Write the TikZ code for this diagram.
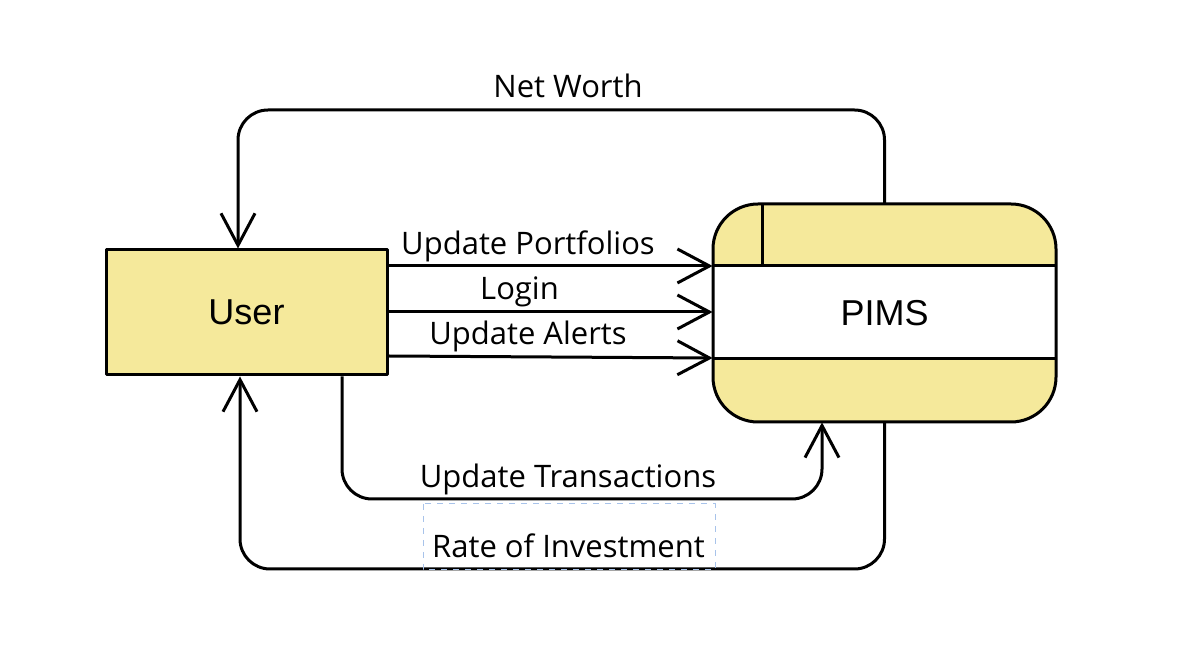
\documentclass[tikz,border=0pt]{standalone}
\usepackage{fontspec}
\setmainfont{Open Sans}
\newfontfamily\boxfont{Liberation Sans}
\usetikzlibrary{arrows.meta}
\definecolor{boxyellow}{HTML}{F5E99B}
\definecolor{selblue}{HTML}{A8C3EA}

\begin{document}
\begin{tikzpicture}[
    x = 0.5pt, y = -0.5pt,
    line join=round,
    entity/.style = {draw, line width=1.5pt, fill=boxyellow, minimum width=140.5pt, minimum height=62.5pt, inner sep=0pt, font=\boxfont\fontsize{18}{20}\selectfont},
    process/.style = {minimum width=171.5pt, minimum height=109pt, inner sep=0pt, font=\boxfont\fontsize{18}{20}\selectfont},
    flow/.style = {line width=1.5pt, -{Straight Barb[length=16pt, width=17pt, line width=1.5pt]}},
    flowlabel/.style = {anchor=base, inner sep=0pt, font=\fontsize{15.5}{17}\selectfont},
    selbox/.style = {draw=selblue, dashed, line width=0.5pt}
]

\useasboundingbox (0,0) rectangle (1188,672);

\coordinate (p1) at (713,204);
\coordinate (p2) at (1056,422);

\fill[boxyellow, rounded corners=22.5pt] (p1) rectangle (p2);
\fill[white] (713,266) rectangle (1056,359);
\draw[line width=1.5pt] (713,266) -- (1056,266);
\draw[line width=1.5pt] (713,359) -- (1056,359);
\draw[line width=1.5pt] (762,204) -- (762,266);
\draw[line width=1.5pt, rounded corners=22.5pt] (p1) rectangle (p2);

\node[entity] (user) at (246.5,312.5) {User};
\node[process] (pims) at (884.5,313) {PIMS};

\coordinate (nw) at (238,110);
\coordinate (ut) at (822,499);
\coordinate (roi) at (240,569);

\draw[flow] (user.east |- 0,266) -- (pims.west |- 0,266);
\draw[flow] (user.east |- 0,312) -- (pims.west |- 0,312);
\draw[flow] (user.east |- 0,356) -- (pims.west |- 0,358);

\draw[flow, rounded corners=15pt] (pims.north) |- (nw) -- (user.north -| nw);
\draw[flow, rounded corners=15pt] (user.south -| 342,0) |- (ut) -- (pims.south -| ut);
\draw[flow, rounded corners=15pt] (pims.south) |- (roi) -- (user.south -| roi);

\node[flowlabel] (lnw) at (568,98) {Net Worth};
\node[flowlabel] (lup) at (528,254.5) {Update Portfolios};
\node[flowlabel] (llog) at (519.5,300) {Login};
\node[flowlabel] (lua) at (528,345) {Update Alerts};
\node[flowlabel] (lut) at (568,488) {Update Transactions};
\node[flowlabel] (lroi) at (568.5,558) {Rate of Investment};

\draw[selbox] (423,504) rectangle (715,570);

\end{tikzpicture}
\end{document}
